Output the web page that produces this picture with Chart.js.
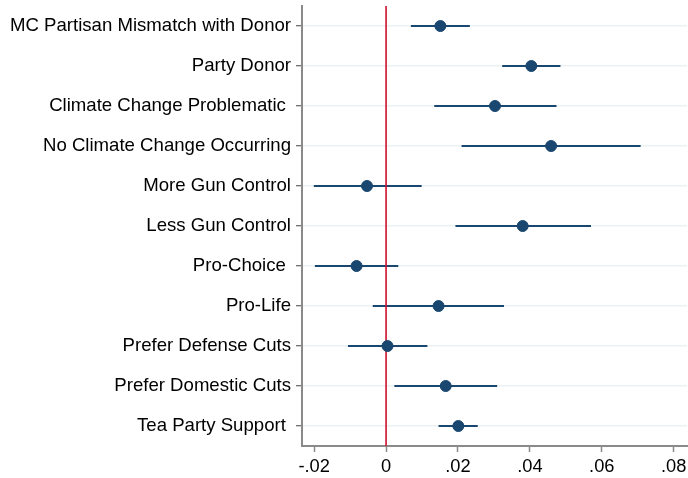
<!DOCTYPE html>
<html>
<head>
<meta charset="utf-8">
<script src="https://cdn.jsdelivr.net/npm/chart.js@4/dist/chart.umd.min.js"></script>
<style>
  html, body { margin: 0; padding: 0; background: #ffffff; overflow: hidden; }
  #wrap { width: 688px; height: 478px; position: relative; }
  #coefplot { display: block; }
</style>
</head>
<body>
<div id="wrap"><canvas id="coefplot"></canvas></div>
<script>
// Coefficient estimates with 95% confidence intervals, top row first
const categories = [
  'MC Partisan Mismatch with Donor',
  'Party Donor',
  'Climate Change Problematic ',
  'No Climate Change Occurring',
  'More Gun Control',
  'Less Gun Control',
  'Pro-Choice ',
  'Pro-Life',
  'Prefer Defense Cuts',
  'Prefer Domestic Cuts',
  'Tea Party Support '
];
const estimates = [0.0151, 0.0404, 0.0303, 0.0459, -0.0053, 0.0380, -0.0082, 0.0146, 0.0004, 0.0166, 0.0201];
const lowerCI   = [0.0069, 0.0323, 0.0134, 0.0210, -0.0201, 0.0193, -0.0198, -0.0037, -0.0106, 0.0023, 0.0146];
const upperCI   = [0.0233, 0.0485, 0.0474, 0.0708, 0.0099, 0.0570, 0.0034, 0.0328, 0.0115, 0.0309, 0.0255];

const xTickValues = [-0.02, 0, 0.02, 0.04, 0.06, 0.08];
const xTickLabels = ['-.02', '0', '.02', '.04', '.06', '.08'];
const referenceValue = 0;

const NAVY = '#1a476f';
const RED = '#d0102f';
const AXIS_GRAY = '#8a8a8a';
const FONT = "'Liberation Sans', Arial, Helvetica, sans-serif";

// Row positions: 1 = top row
const rowOf = i => i + 1;

const pointData = estimates.map((v, i) => ({ x: v, y: rowOf(i) }));

// Confidence-interval segments, separated by gaps
const ciData = [];
lowerCI.forEach((lo, i) => {
  ciData.push({ x: lo, y: rowOf(i) });
  ciData.push({ x: upperCI[i], y: rowOf(i) });
  ciData.push({ x: null, y: null });
});

const refLine = [
  { x: referenceValue, y: 0.5 },
  { x: referenceValue, y: categories.length + 0.5 }
];

new Chart(document.getElementById('coefplot'), {
  type: 'scatter',
  data: {
    datasets: [
      {
        type: 'scatter',
        data: pointData,
        backgroundColor: NAVY,
        borderColor: NAVY,
        pointRadius: 5.5,
        pointHoverRadius: 5.5,
        order: 0
      },
      {
        type: 'line',
        data: refLine,
        borderColor: RED,
        borderWidth: 1.6,
        pointRadius: 0,
        fill: false,
        order: 1
      },
      {
        type: 'line',
        data: ciData,
        borderColor: NAVY,
        borderWidth: 2,
        pointRadius: 0,
        spanGaps: false,
        fill: false,
        order: 2
      }
    ]
  },
  options: {
    responsive: true,
    maintainAspectRatio: false,
    animation: false,
    layout: { autoPadding: false, padding: { top: 6, right: 1, left: 0, bottom: 0 } },
    plugins: {
      legend: { display: false },
      tooltip: { enabled: false }
    },
    scales: {
      x: {
        type: 'linear',
        position: 'bottom',
        min: -0.02338,
        max: 0.0837,
        afterBuildTicks: scale => {
          scale.ticks = xTickValues.map(v => ({ value: v }));
        },
        afterFit: scale => {
          scale.height = 32;
          scale.paddingLeft = 0;
          scale.paddingRight = 0;
        },
        ticks: {
          autoSkip: false,
          maxRotation: 0,
          padding: 4,
          color: '#000',
          font: { family: FONT, size: 18.3 },
          callback: v => {
            const k = xTickValues.findIndex(t => Math.abs(t - v) < 1e-9);
            return k >= 0 ? xTickLabels[k] : '';
          }
        },
        grid: {
          drawOnChartArea: false,
          drawTicks: true,
          tickLength: 6,
          tickColor: AXIS_GRAY,
          tickWidth: 1.5
        },
        border: { display: true, color: AXIS_GRAY, width: 2 }
      },
      y: {
        type: 'linear',
        reverse: true,
        min: 0.5,
        max: categories.length + 0.5,
        afterBuildTicks: scale => {
          scale.ticks = categories.map((_, i) => ({ value: rowOf(i) }));
        },
        afterFit: scale => {
          scale.width = 302;
          scale.paddingTop = 0;
          scale.paddingBottom = 0;
        },
        ticks: {
          autoSkip: false,
          padding: 5,
          color: '#000',
          font: { family: FONT, size: 18.6 },
          callback: v => categories[Math.round(v) - 1] ?? ''
        },
        grid: {
          color: '#eaf2f3',
          lineWidth: 1.5,
          drawTicks: true,
          tickLength: 6,
          tickColor: '#444',
          tickWidth: 1
        },
        border: { display: true, color: AXIS_GRAY, width: 2 }
      }
    }
  }
});
</script>
</body>
</html>
